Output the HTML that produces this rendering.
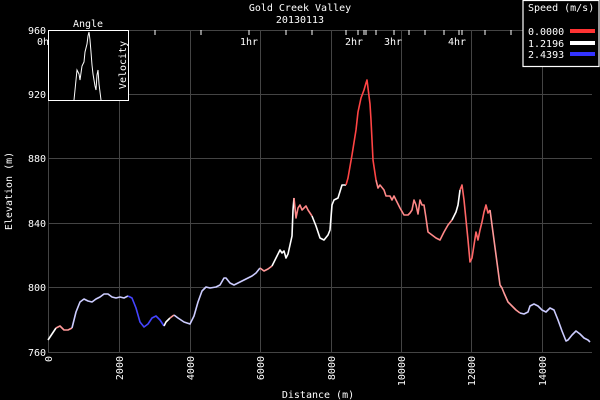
<!DOCTYPE html>
<html><head><meta charset="utf-8"><style>
html,body{margin:0;padding:0;background:#000;}
svg{display:block;font-family:"DejaVu Sans Mono","Liberation Mono",monospace;}
</style></head><body>
<svg width="600" height="400" viewBox="0 0 600 400" xmlns="http://www.w3.org/2000/svg">
<rect width="600" height="400" fill="#000"/>
<g stroke="#444" stroke-width="1">
<line x1="48.5" y1="30" x2="48.5" y2="352"/>
<line x1="119.5" y1="30" x2="119.5" y2="352"/>
<line x1="190.5" y1="30" x2="190.5" y2="352"/>
<line x1="260.5" y1="30" x2="260.5" y2="352"/>
<line x1="331.5" y1="30" x2="331.5" y2="352"/>
<line x1="401.5" y1="30" x2="401.5" y2="352"/>
<line x1="471.5" y1="30" x2="471.5" y2="352"/>
<line x1="542.5" y1="30" x2="542.5" y2="352"/>
<line x1="48" y1="30.5" x2="592" y2="30.5"/>
<line x1="48" y1="94.5" x2="592" y2="94.5"/>
<line x1="48" y1="158.5" x2="592" y2="158.5"/>
<line x1="48" y1="223.5" x2="592" y2="223.5"/>
<line x1="48" y1="287.5" x2="592" y2="287.5"/>
<line x1="48" y1="352.5" x2="592" y2="352.5"/>
</g>
<g stroke="#fff" stroke-width="1">
<line x1="155" y1="30" x2="155" y2="35"/><line x1="201" y1="30" x2="201" y2="35"/><line x1="249" y1="30" x2="249" y2="35"/>
<line x1="286" y1="30" x2="286" y2="35"/><line x1="312" y1="30" x2="312" y2="35"/><line x1="346" y1="30" x2="346" y2="35"/>
<line x1="358" y1="30" x2="358" y2="35"/><line x1="364" y1="30" x2="364" y2="35"/><line x1="366" y1="30" x2="366" y2="35"/>
<line x1="376" y1="30" x2="376" y2="35"/><line x1="394" y1="30" x2="394" y2="35"/><line x1="409" y1="30" x2="409" y2="35"/>
<line x1="425" y1="30" x2="425" y2="35"/><line x1="444" y1="30" x2="444" y2="35"/><line x1="459" y1="30" x2="459" y2="35"/>
<line x1="462" y1="30" x2="462" y2="35"/><line x1="485" y1="30" x2="485" y2="35"/><line x1="511" y1="30" x2="511" y2="35"/>
</g>
<g fill="#fff" font-size="10">
<text x="300" y="11" text-anchor="middle">Gold Creek Valley</text>
<text x="300" y="23" text-anchor="middle">20130113</text>
<text x="249" y="45" text-anchor="middle">1hr</text>
<text x="354" y="45" text-anchor="middle">2hr</text>
<text x="393" y="45" text-anchor="middle">3hr</text>
<text x="457" y="45" text-anchor="middle">4hr</text>
<text x="37" y="45">0hr</text>
<text x="46" y="34" text-anchor="end">960</text>
<text x="46" y="98" text-anchor="end">920</text>
<text x="46" y="162" text-anchor="end">880</text>
<text x="46" y="227" text-anchor="end">840</text>
<text x="46" y="291" text-anchor="end">800</text>
<text x="46" y="356" text-anchor="end">760</text>
<text transform="translate(12,191) rotate(-90)" text-anchor="middle">Elevation (m)</text>
<text x="318" y="398" text-anchor="middle">Distance (m)</text>
<text transform="translate(52,356) rotate(-90)" text-anchor="end">0</text>
<text transform="translate(123,356) rotate(-90)" text-anchor="end">2000</text>
<text transform="translate(194,356) rotate(-90)" text-anchor="end">4000</text>
<text transform="translate(264,356) rotate(-90)" text-anchor="end">6000</text>
<text transform="translate(335,356) rotate(-90)" text-anchor="end">8000</text>
<text transform="translate(405,356) rotate(-90)" text-anchor="end">10000</text>
<text transform="translate(475,356) rotate(-90)" text-anchor="end">12000</text>
<text transform="translate(546,356) rotate(-90)" text-anchor="end">14000</text>
</g>
<g fill="none" stroke-width="1.6" stroke-linejoin="round">
<polyline stroke="#fff" points="48,340 52,334 56,328"/>
<polyline stroke="#f99" points="56,328 60,326 64,330 68,330 72,328"/>
<polyline stroke="#ccf" points="72,328 76,312 80,302 84,299 88,301 92,302 96,299 100,297 104,294 108,294 112,297 116,298 120,297 124,298 128,296"/>
<polyline stroke="#44f" points="128,296 132,298 136,308 140,322 144,327 148,324 152,318 156,316 160,320 164,326"/>
<polyline stroke="#fff" points="164,326 166,322 170,318"/>
<polyline stroke="#f99" points="170,318 174,315"/>
<polyline stroke="#ccf" points="174,315 178,318 184,322 190,324 194,316 198,302 202,291 206,287 210,288 216,287 220,285 224,278 226,278 230,283 234,285 240,282 246,279 252,276 256,273 260,268"/>
<polyline stroke="#f99" points="260,268 264,271 268,269 272,266"/>
<polyline stroke="#fff" points="272,266 276,258 280,250 282,253 284,251 286,258 288,254 290,245 292,236 293,210 294,198"/>
<polyline stroke="#f88" points="294,198 296,218 298,208 300,205 302,210 306,206 308,210 312,216"/>
<polyline stroke="#fff" points="312,216 316,226 320,238 324,240 328,235 330,230 332,205 334,200 338,198 342,185 346,185"/>
<polyline stroke="#f44" points="346,185 348,178 352,155 356,130 358,112 361,98 364,90 366,83 367,80 368,88 370,104 371,120 372,140 373,160 376,180"/>
<polyline stroke="#f88" points="376,180 378,188 380,185 384,190 386,196 390,196 392,200 394,196 396,200 400,208 404,215 408,215 410,213 412,210 414,200 416,205 418,214 420,200 422,205 424,205 426,218 428,232 432,235 436,238 440,240 444,232 448,225 452,220"/>
<polyline stroke="#fff" points="452,220 456,212 458,205 460,190"/>
<polyline stroke="#f66" points="460,190 462,185 464,200 466,220 468,240 470,262 472,258 474,245 476,232 478,240 480,230 482,222 484,212 486,205 488,213 490,210"/>
<polyline stroke="#f99" points="490,210 492,225 494,240 496,255 498,270 500,285 502,288 504,293 508,302 512,306 516,310 520,313"/>
<polyline stroke="#ccf" points="520,313 524,314 528,312 530,306 534,304 538,306 542,310 546,312 550,308 554,310 558,320 562,331 566,341 568,340 572,335 576,331 580,334 584,338 588,340 590,342"/>
</g>
<rect x="48.5" y="30.5" width="80" height="70" fill="#000" stroke="#fff" stroke-width="1"/>
<polyline fill="none" stroke="#fff" stroke-width="1" points="74,100 76,80 77,70 79,74 80,80 82,66 84,62 85,52 87,44 88,36 89,32 90,40 91,52 92,65 93,74 95,86 96,90 97,75 98,70 99,84 100,92 101,100"/>
<text x="88" y="27" fill="#fff" font-size="10" text-anchor="middle">Angle</text>
<text transform="translate(126,65) rotate(-90)" fill="#fff" font-size="10" text-anchor="middle">Velocity</text>
<rect x="523" y="0.5" width="76" height="66" fill="#000" stroke="#fff" stroke-width="1.2"/>
<g fill="#fff" font-size="10">
<text x="528" y="11">Speed (m/s)</text>
<text x="528" y="35">0.0000</text>
<text x="528" y="47">1.2196</text>
<text x="528" y="58">2.4393</text>
</g>
<rect x="570" y="29" width="25" height="4" fill="#f33"/>
<rect x="570" y="41" width="25" height="4" fill="#fff"/>
<rect x="570" y="52" width="25" height="4" fill="#33f"/>
</svg>
</body></html>
